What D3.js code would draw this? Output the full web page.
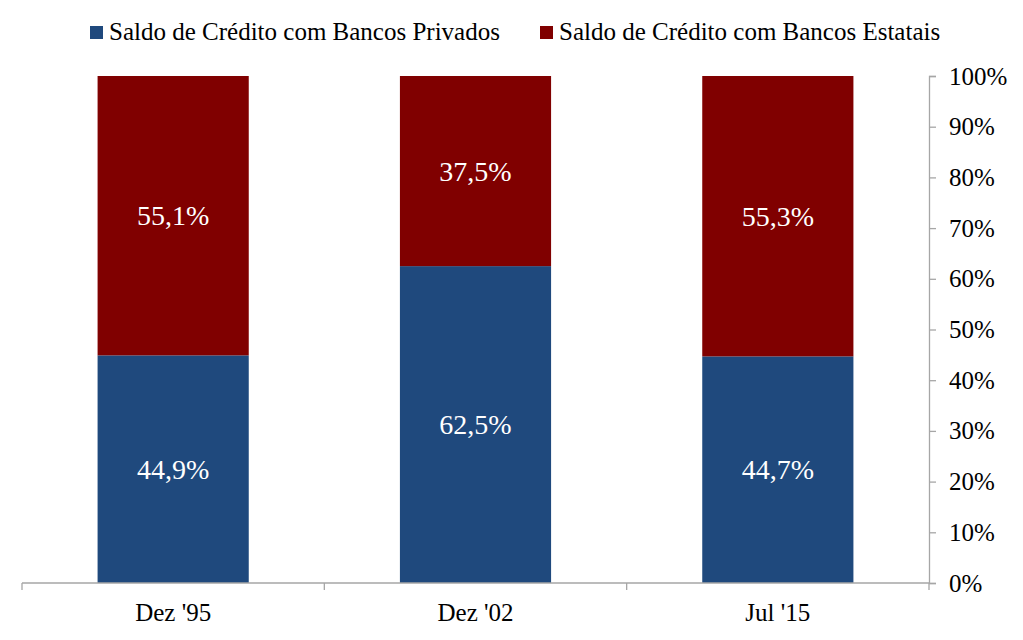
<!DOCTYPE html>
<html>
<head>
<meta charset="utf-8">
<script src="https://cdn.jsdelivr.net/npm/d3@7"></script>
<style>
  body { margin: 0; background: #fff; }
</style>
</head>
<body>
<svg id="chart" width="1023" height="640"></svg>
<script>
// Data
const categories = ["Dez '95", "Dez '02", "Jul '15"];
const privados = [44.9, 62.5, 44.7];
const estatais = [55.1, 37.5, 55.3];
const seriesNames = ["Saldo de Crédito com Bancos Privados", "Saldo de Crédito com Bancos Estatais"];
const yTicks = [0, 10, 20, 30, 40, 50, 60, 70, 80, 90, 100];

const colors = ["#1F497D", "#800000"];
const axisColor = "#A6A6A6";
const font = "'Liberation Serif', Tinos, 'Times New Roman', 'DejaVu Serif', serif";

// Layout
const plot = { left: 22, right: 929, top: 76, bottom: 583 };

const svg = d3.select("#chart").style("font-family", font);

const x = d3.scaleBand()
  .domain(categories)
  .range([plot.left, plot.right])
  .paddingInner(0.5)
  .paddingOuter(0.25);

const y = d3.scaleLinear().domain([0, 100]).range([plot.bottom, plot.top]);

// Stack the two series
const rows = categories.map((c, i) => ({ cat: c, privados: privados[i], estatais: estatais[i] }));
const stacked = d3.stack().keys(["privados", "estatais"])(rows);

const layers = svg.selectAll(".layer")
  .data(stacked)
  .enter()
  .append("g")
  .attr("class", "layer")
  .attr("fill", (d, i) => colors[i]);

layers.selectAll("rect")
  .data((d) => d)
  .enter()
  .append("rect")
  .attr("x", (d) => x(d.data.cat))
  .attr("width", x.bandwidth())
  .attr("y", (d) => y(d[1]))
  .attr("height", (d) => y(d[0]) - y(d[1]));

// Value labels inside the bars
layers.selectAll("text")
  .data((d) => d)
  .enter()
  .append("text")
  .attr("x", (d) => x(d.data.cat) + x.bandwidth() / 2)
  .attr("y", (d) => y((d[0] + d[1]) / 2))
  .attr("dy", "0.35em")
  .attr("text-anchor", "middle")
  .attr("fill", "#fff")
  .style("font-family", font)
  .style("font-size", "28px")
  .text((d) => (d[1] - d[0]).toFixed(1).replace(".", ",") + "%");

// X axis: ticks at the category boundaries
const xAxis = svg.append("g").attr("class", "x-axis");
xAxis.append("line")
  .attr("x1", plot.left).attr("x2", plot.right)
  .attr("y1", plot.bottom).attr("y2", plot.bottom)
  .attr("stroke", axisColor).attr("stroke-width", 1.3);

const boundaries = categories.map((c) => x(c) - x.step() * x.paddingInner() / 2);
boundaries.push(plot.right);
xAxis.selectAll(".bound")
  .data(boundaries)
  .enter()
  .append("line")
  .attr("class", "bound")
  .attr("x1", (d) => d).attr("x2", (d) => d)
  .attr("y1", plot.bottom).attr("y2", plot.bottom + 7)
  .attr("stroke", axisColor).attr("stroke-width", 1.3);

xAxis.selectAll(".cat")
  .data(categories)
  .enter()
  .append("text")
  .attr("class", "cat")
  .attr("x", (d) => x(d) + x.bandwidth() / 2)
  .attr("y", 621)
  .attr("text-anchor", "middle")
  .attr("fill", "#000")
  .style("font-family", font)
  .style("font-size", "25px")
  .text((d) => d);

// Y axis on the right
const yAxis = svg.append("g")
  .attr("class", "y-axis")
  .attr("transform", `translate(${plot.right}, 0)`)
  .call(d3.axisRight(y).tickValues(yTicks).tickSize(7).tickPadding(13).tickFormat((d) => d + "%"));

yAxis.attr("font-family", null);
yAxis.select(".domain").attr("stroke", axisColor).attr("stroke-width", 1.3);
yAxis.selectAll(".tick line").attr("stroke", axisColor).attr("stroke-width", 1.3);
yAxis.selectAll(".tick text")
  .attr("fill", "#000")
  .style("font-family", font)
  .style("font-size", "25px");

// Legend
const legendPos = [90, 540];
const legend = svg.selectAll(".legend")
  .data(seriesNames)
  .enter()
  .append("g")
  .attr("class", "legend")
  .attr("transform", (d, i) => `translate(${legendPos[i]}, 26)`);

legend.append("rect")
  .attr("width", 13).attr("height", 13)
  .attr("fill", (d, i) => colors[i]);

legend.append("text")
  .attr("x", 19)
  .attr("y", 14)
  .attr("fill", "#000")
  .style("font-family", font)
  .style("font-size", "25px")
  .text((d) => d);
</script>
</body>
</html>
